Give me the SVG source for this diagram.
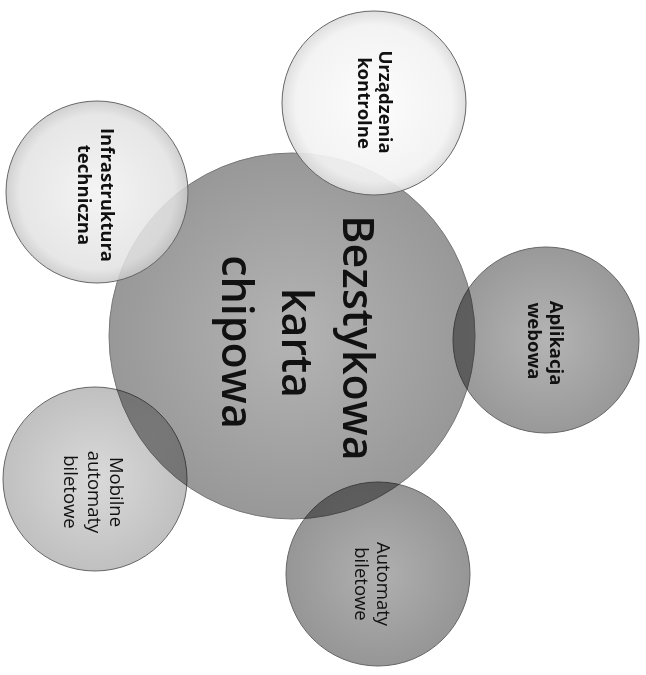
<svg xmlns="http://www.w3.org/2000/svg" width="646" height="675" viewBox="0 0 646 675">
<style>
.lbl{font-family:"Open Sans","Noto Sans","Liberation Sans",sans-serif;fill:#111;text-anchor:middle}
.b{font-weight:bold;font-size:18.5px}
.r{font-size:18.5px}
.big{font-size:43px;font-weight:600}
.sat{stroke:#666;stroke-width:1}
</style>
<defs>
<radialGradient id="gC"><stop offset="0" stop-color="#b4b4b4"/><stop offset="1" stop-color="#989898"/></radialGradient>
<radialGradient id="gU"><stop offset="0" stop-color="#fcfcfc"/><stop offset="0.85" stop-color="#f2f2f2"/><stop offset="1" stop-color="#dcdcdc"/></radialGradient>
<radialGradient id="gI"><stop offset="0" stop-color="#f2f2f2"/><stop offset="0.85" stop-color="#e2e2e2"/><stop offset="1" stop-color="#c8c8c8"/></radialGradient>
<radialGradient id="gA"><stop offset="0" stop-color="#b4b4b4"/><stop offset="1" stop-color="#999"/></radialGradient>
<radialGradient id="gM"><stop offset="0" stop-color="#dadada"/><stop offset="1" stop-color="#c0c0c0"/></radialGradient>
<radialGradient id="gB"><stop offset="0" stop-color="#b0b0b0"/><stop offset="1" stop-color="#969696"/></radialGradient>
</defs>
<g id="connectors"></g>
<g id="node-center">
<circle cx="292" cy="336" r="183" fill="url(#gC)" stroke="#777" stroke-width="1"/>
<text class="lbl big" transform="translate(343,338) rotate(90)">Bezstykowa</text>
<text class="lbl big" transform="translate(282,343) rotate(90)">karta</text>
<text class="lbl big" transform="translate(222,342) rotate(90)">chipowa</text>
</g>
<g id="node-urzadzenia">
<circle class="sat" cx="374" cy="103" r="92" fill="url(#gU)" fill-opacity="0.92"/>
<text class="lbl b" transform="translate(379,102) rotate(90)">Urządzenia</text>
<text class="lbl b" transform="translate(358,103) rotate(90)">kontrolne</text>
</g>
<g id="node-infrastruktura">
<circle class="sat" cx="97" cy="192" r="91" fill="url(#gI)" fill-opacity="0.85"/>
<text class="lbl b" transform="translate(101,195) rotate(90)">Infrastruktura</text>
<text class="lbl b" transform="translate(78,195) rotate(90)">techniczna</text>
</g>
<g id="node-aplikacja">
<circle class="sat" cx="546" cy="340" r="93" fill="url(#gA)" style="mix-blend-mode:multiply"/>
<text class="lbl b" transform="translate(550,343) rotate(90)">Aplikacja</text>
<text class="lbl b" transform="translate(528,341) rotate(90)">webowa</text>
</g>
<g id="node-mobilne">
<circle class="sat" cx="95" cy="479" r="92" fill="url(#gM)" style="mix-blend-mode:multiply"/>
<text class="lbl r" transform="translate(110,492) rotate(90)">Mobilne</text>
<text class="lbl r" transform="translate(88,492) rotate(90)">automaty</text>
<text class="lbl r" transform="translate(64,492) rotate(90)">biletowe</text>
</g>
<g id="node-automaty">
<circle class="sat" cx="378" cy="574" r="92" fill="url(#gB)" style="mix-blend-mode:multiply"/>
<text class="lbl r" transform="translate(377,584) rotate(90)">Automaty</text>
<text class="lbl r" transform="translate(355,584) rotate(90)">biletowe</text>
</g>
</svg>
